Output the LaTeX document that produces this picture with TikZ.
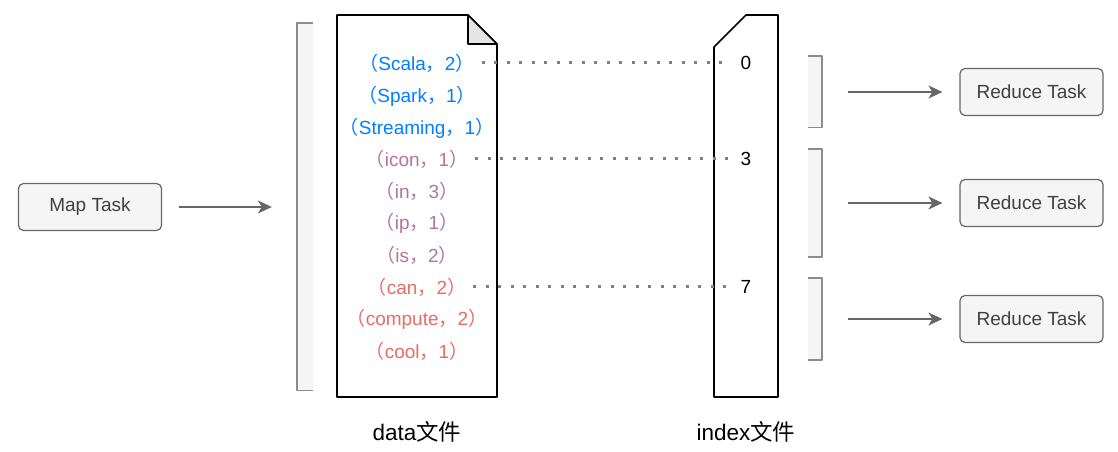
\documentclass[tikz,border=0pt]{standalone}
\usepackage{fontspec}
\setmainfont{Liberation Sans}
\newfontfamily\cjk{Noto Sans CJK SC}
\usetikzlibrary{arrows.meta}
\definecolor{kvblue}{HTML}{007FFF}
\definecolor{kvpurple}{HTML}{B5739D}
\definecolor{kvred}{HTML}{EA6B66}
\definecolor{lightfill}{HTML}{F5F5F5}
\newcommand{\kv}[2]{{\cjk（}#1{\cjk，}#2{\cjk）}}
\begin{document}
\begin{tikzpicture}[>={Stealth[length=14bp,width=13bp,inset=4bp]},line join=bevel,
  task/.style={draw=black!60,fill=lightfill,rounded corners=5bp,line width=1.2bp,minimum width=143bp,minimum height=47bp,text=black!75,font=\fontsize{19bp}{22bp}\selectfont},
  pair/.style={font=\fontsize{19bp}{22bp}\selectfont,inner sep=1bp},
  offset/.style={font=\fontsize{19bp}{22bp}\selectfont,inner sep=1bp},
  flow/.style={->,draw=black!60,line width=1.2bp},
  link/.style={draw=black!50,line width=3bp,dash pattern=on 3bp off 9.5bp},
  bracket/.style={fill=lightfill,inner sep=0,minimum width=16bp},
  side/.style={draw=black!45,line width=1.6bp},
  file/.style={draw=black,line width=1.6bp,fill=white},
  filename/.style={font=\fontsize{22.5bp}{26bp}\selectfont}]
\useasboundingbox (0bp,0bp) rectangle (1118bp,452bp);
%%
\draw [file] (337bp,55bp) -- (337bp,437bp) -- (468bp,437bp) -- (497bp,408bp) -- (497bp,55bp) -- cycle;
  \draw [file,fill=black!10] (468bp,437bp) -- (468bp,408bp) -- (497bp,408bp) -- cycle;
  \draw [file] (714bp,55bp) -- (714bp,405bp) -- (746bp,437bp) -- (778bp,437bp) -- (778bp,55bp) -- cycle;
%
\node (map) at (90bp,245bp) [task] {Map Task};
  \node (lb) at (305bp,245bp) [bracket,minimum height=367bp] {};
  \node (rb1) at (815bp,360bp) [bracket,minimum width=14bp,minimum height=71bp] {};
  \node (rb2) at (815bp,249bp) [bracket,minimum width=14bp,minimum height=108bp] {};
  \node (rb3) at (815bp,133bp) [bracket,minimum width=14bp,minimum height=82bp] {};
  \node (red1) at (1031.5bp,360bp) [task] {Reduce Task};
  \node (red2) at (1031.5bp,249bp) [task] {Reduce Task};
  \node (red3) at (1031.5bp,133bp) [task] {Reduce Task};
%
\node (p1) at (417bp,389bp) [pair,text=kvblue] {\kv{Scala}{2}};
  \node (p2) at (417bp,356bp) [pair,text=kvblue] {\kv{Spark}{1}};
  \node (p3) at (417bp,324bp) [pair,text=kvblue] {\kv{Streaming}{1}};
  \node (p4) at (417bp,293bp) [pair,text=kvpurple] {\kv{icon}{1}};
  \node (p5) at (417bp,261bp) [pair,text=kvpurple] {\kv{in}{3}};
  \node (p6) at (417bp,229bp) [pair,text=kvpurple] {\kv{ip}{1}};
  \node (p7) at (417bp,197bp) [pair,text=kvpurple] {\kv{is}{2}};
  \node (p8) at (417bp,165bp) [pair,text=kvred] {\kv{can}{2}};
  \node (p9) at (417bp,133bp) [pair,text=kvred] {\kv{compute}{2}};
  \node (p10) at (417bp,101bp) [pair,text=kvred] {\kv{cool}{1}};
  \node (n0) at (746bp,389bp) [offset] {0};
  \node (n3) at (746bp,293bp) [offset] {3};
  \node (n7) at (746bp,165bp) [offset] {7};
  \node (data) at (417bp,20bp) [filename] {data{\cjk 文件}};
  \node (index) at (746bp,20bp) [filename] {index{\cjk 文件}};
%
\draw [side] (lb.north east) -- (lb.north west) -- (lb.south west) -- (lb.south east);
  \draw [side] (rb1.north west) -- (rb1.north east) -- (rb1.south east) -- (rb1.south west);
  \draw [side] (rb2.north west) -- (rb2.north east) -- (rb2.south east) -- (rb2.south west);
  \draw [side] (rb3.north west) -- (rb3.north east) -- (rb3.south east) -- (rb3.south west);
  \draw [flow,shorten <=17bp,shorten >=25bp] (map) -- (lb);
  \draw [flow,shorten <=26bp,shorten >=17bp] (rb1) -- (red1);
  \draw [flow,shorten <=26bp,shorten >=17bp] (rb2) -- (red2);
  \draw [flow,shorten <=26bp,shorten >=17bp] (rb3) -- (red3);
  \draw [link,shorten <=6bp,shorten >=10bp] (p1.east) -- (n0.west);
  \draw [link,shorten <=6bp,shorten >=10bp] (p4.east) -- (n3.west);
  \draw [link,shorten <=6bp,shorten >=10bp] (p8.east) -- (n7.west);
%
\end{tikzpicture}
\end{document}
